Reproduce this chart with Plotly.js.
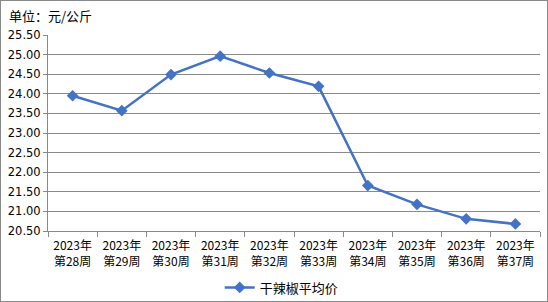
<!DOCTYPE html>
<html>
<head>
<meta charset="utf-8">
<script src="https://cdn.plot.ly/plotly-3.0.1.min.js"></script>
<style>
html,body{margin:0;padding:0;background:#fff;}
#chart{width:546px;height:300px;border:1px solid #898989;}
</style>
</head>
<body>
<div id="chart"></div>
<script>
var categories = ["2023年<br>第28周","2023年<br>第29周","2023年<br>第30周","2023年<br>第31周","2023年<br>第32周","2023年<br>第33周","2023年<br>第34周","2023年<br>第35周","2023年<br>第36周","2023年<br>第37周"];
var prices = [23.95, 23.57, 24.49, 24.96, 24.53, 24.19, 21.66, 21.18, 20.81, 20.68];
var seriesName = "干辣椒平均价";
var yTicks = [20.5, 21, 21.5, 22, 22.5, 23, 23.5, 24, 24.5, 25, 25.5];

var fontFam = "'Noto Sans CJK SC', 'DejaVu Sans', sans-serif";
var trace = {
  x: categories, y: prices, name: seriesName, type: "scatter", mode: "lines+markers",
  line: {color: "#4472C4", width: 2.5},
  marker: {symbol: "diamond", size: 9, color: "#4472C4"}
};
var layout = {
  width: 546, height: 300,
  margin: {l: 47, r: 7, t: 34, b: 70},
  paper_bgcolor: "#fff", plot_bgcolor: "#fff",
  font: {family: fontFam, size: 11, color: "#000"},
  showlegend: true,
  legend: {orientation: "h", x: 0.475, xanchor: "center", yref: "container", y: 0.045, yanchor: "middle", font: {size: 13, family: fontFam}},
  annotations: [{text: "单位：元/公斤", xref: "paper", yref: "paper", x: -0.083, y: 1.1, xanchor: "left", yanchor: "middle", showarrow: false, font: {size: 13, family: fontFam, color: "#000"}}],
  xaxis: {
    type: "category", tickson: "boundaries", ticks: "outside", ticklen: 5, tickcolor: "#898989",
    showgrid: false, showline: true, linecolor: "#898989", linewidth: 1, ticklabelstandoff: 4,
    tickfont: {size: 12, family: fontFam}, range: [-0.5, 9.5], automargin: false
  },
  yaxis: {
    range: [20.5, 25.5], tickvals: yTicks, ticktext: yTicks.map(function(v){return v.toFixed(2);}),
    ticks: "outside", ticklen: 4, tickcolor: "#898989",
    showgrid: true, gridcolor: "#898989", gridwidth: 1,
    showline: true, linecolor: "#898989", linewidth: 1, zeroline: false,
    tickfont: {size: 11.5, family: "'DejaVu Sans', sans-serif"}, automargin: false
  }
};
Plotly.newPlot("chart", [trace], layout, {displayModeBar: false, staticPlot: true});
</script>
</body>
</html>
